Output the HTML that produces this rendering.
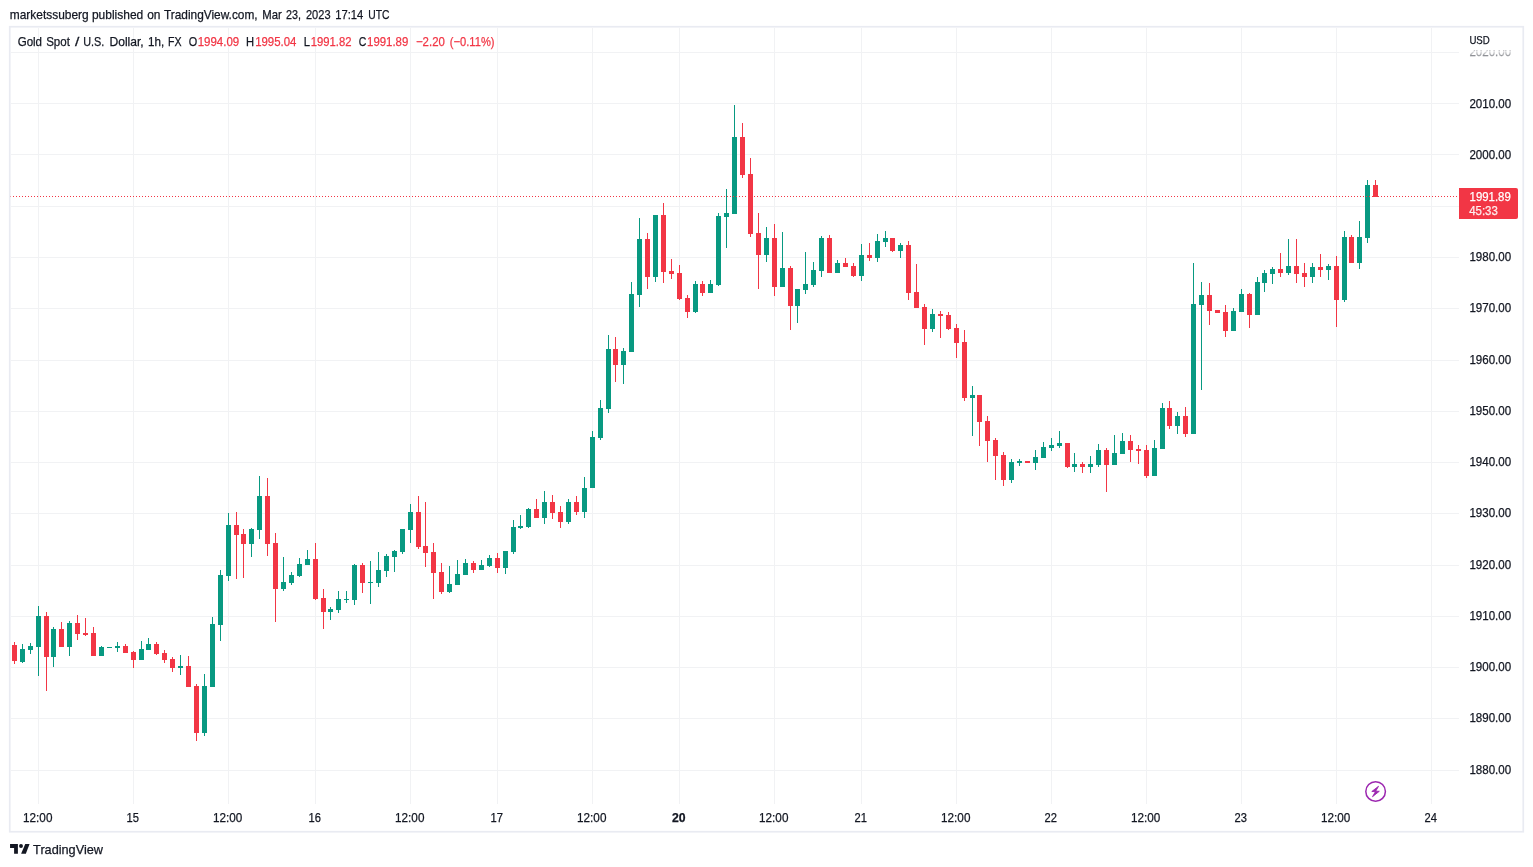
<!DOCTYPE html>
<html lang="en"><head><meta charset="utf-8"><title>Gold Spot / U.S. Dollar chart</title>
<style>html,body{margin:0;padding:0;background:#fff;}body{width:1533px;height:867px;overflow:hidden;}svg{display:block;font-family:'Liberation Sans', Arial, sans-serif;}text{white-space:pre;stroke:currentColor;stroke-width:0.25px;}</style></head><body>
<svg width="1533" height="867" viewBox="0 0 1533 867">
<rect width="1533" height="867" fill="#fff"/>
<path d="M10.5 770.5H1458.5M10.5 718.5H1458.5M10.5 667.5H1458.5M10.5 616.5H1458.5M10.5 565.5H1458.5M10.5 513.5H1458.5M10.5 462.5H1458.5M10.5 411.5H1458.5M10.5 360.5H1458.5M10.5 308.5H1458.5M10.5 257.5H1458.5M10.5 206.5H1458.5M10.5 154.5H1458.5M10.5 103.5H1458.5M10.5 52.5H1458.5M38.5 27.5V803.5M133.5 27.5V803.5M228.5 27.5V803.5M315.5 27.5V803.5M410.5 27.5V803.5M497.5 27.5V803.5M592.5 27.5V803.5M679.5 27.5V803.5M774.5 27.5V803.5M861.5 27.5V803.5M956.5 27.5V803.5M1051.5 27.5V803.5M1146.5 27.5V803.5M1241.5 27.5V803.5M1336.5 27.5V803.5M1431.5 27.5V803.5" stroke="#f1f2f4" stroke-width="1" fill="none" shape-rendering="crispEdges"/>
<path d="M22 644h1V663h-1zM30 643h1V654h-1zM38 606h1V676h-1zM53 627h1V667h-1zM69 621h1V656h-1zM101 646h1V656h-1zM109 647h1V648h-1zM117 642h1V652h-1zM141 641h1V660h-1zM148 638h1V650h-1zM180 655h1V675h-1zM204 674h1V736h-1zM212 617h1V687h-1zM220 570h1V641h-1zM228 513h1V581h-1zM251 528h1V557h-1zM259 476h1V539h-1zM283 557h1V591h-1zM291 572h1V585h-1zM299 558h1V577h-1zM307 550h1V565h-1zM330 607h1V620h-1zM338 591h1V613h-1zM346 591h1V603h-1zM354 564h1V605h-1zM370 561h1V604h-1zM378 552h1V587h-1zM386 554h1V577h-1zM394 550h1V572h-1zM402 529h1V554h-1zM410 504h1V543h-1zM449 566h1V593h-1zM457 560h1V585h-1zM465 559h1V575h-1zM481 560h1V570h-1zM489 555h1V567h-1zM505 551h1V574h-1zM513 520h1V554h-1zM520 515h1V529h-1zM528 508h1V528h-1zM544 491h1V524h-1zM568 499h1V524h-1zM584 477h1V518h-1zM592 431h1V488h-1zM600 400h1V440h-1zM608 335h1V413h-1zM623 348h1V384h-1zM631 282h1V352h-1zM639 218h1V307h-1zM655 215h1V282h-1zM695 281h1V313h-1zM710 280h1V293h-1zM718 213h1V286h-1zM726 189h1V248h-1zM734 105h1V214h-1zM766 227h1V262h-1zM782 232h1V287h-1zM797 289h1V323h-1zM805 252h1V294h-1zM813 262h1V287h-1zM821 236h1V277h-1zM837 260h1V273h-1zM861 244h1V281h-1zM877 234h1V262h-1zM885 231h1V247h-1zM900 243h1V258h-1zM932 309h1V332h-1zM972 386h1V436h-1zM1011 459h1V483h-1zM1019 459h1V466h-1zM1035 450h1V470h-1zM1043 442h1V458h-1zM1051 438h1V451h-1zM1059 431h1V448h-1zM1074 453h1V472h-1zM1090 456h1V473h-1zM1098 444h1V467h-1zM1114 435h1V465h-1zM1122 433h1V454h-1zM1154 440h1V476h-1zM1162 403h1V449h-1zM1177 412h1V434h-1zM1193 263h1V434h-1zM1201 282h1V390h-1zM1233 308h1V331h-1zM1241 289h1V312h-1zM1257 277h1V315h-1zM1264 270h1V292h-1zM1272 267h1V284h-1zM1288 239h1V275h-1zM1312 263h1V283h-1zM1328 264h1V280h-1zM1344 231h1V302h-1zM1359 221h1V269h-1zM1367 180h1V243h-1zM20 649h5V662h-5zM28 646h5V650h-5zM36 616h5V647h-5zM51 629h5V657h-5zM67 623h5V647h-5zM99 647h5V656h-5zM107 647h5V648h-5zM115 646h5V648h-5zM139 649h5V660h-5zM146 644h5V650h-5zM178 666h5V668h-5zM202 686h5V733h-5zM210 624h5V687h-5zM218 575h5V625h-5zM226 525h5V576h-5zM249 529h5V544h-5zM257 496h5V530h-5zM281 582h5V589h-5zM289 575h5V583h-5zM297 564h5V576h-5zM305 559h5V565h-5zM328 609h5V612h-5zM336 599h5V610h-5zM344 599h5V600h-5zM352 565h5V600h-5zM368 582h5V583h-5zM376 570h5V583h-5zM384 556h5V571h-5zM392 551h5V557h-5zM400 529h5V552h-5zM408 512h5V530h-5zM447 584h5V592h-5zM455 574h5V585h-5zM463 563h5V575h-5zM479 565h5V570h-5zM487 558h5V566h-5zM503 551h5V568h-5zM511 527h5V552h-5zM518 526h5V528h-5zM526 509h5V527h-5zM542 502h5V518h-5zM566 502h5V522h-5zM582 488h5V512h-5zM590 437h5V488h-5zM598 408h5V438h-5zM606 349h5V409h-5zM621 351h5V365h-5zM629 294h5V352h-5zM637 239h5V295h-5zM653 215h5V277h-5zM693 284h5V312h-5zM708 284h5V293h-5zM716 216h5V285h-5zM724 213h5V217h-5zM732 137h5V214h-5zM764 238h5V255h-5zM780 268h5V287h-5zM795 289h5V306h-5zM803 284h5V290h-5zM811 270h5V285h-5zM819 238h5V271h-5zM835 263h5V273h-5zM859 255h5V276h-5zM875 241h5V258h-5zM883 238h5V242h-5zM898 245h5V251h-5zM930 314h5V329h-5zM970 395h5V398h-5zM1009 462h5V480h-5zM1017 461h5V463h-5zM1033 457h5V463h-5zM1041 447h5V458h-5zM1049 445h5V448h-5zM1057 443h5V446h-5zM1072 464h5V467h-5zM1088 464h5V467h-5zM1096 450h5V465h-5zM1112 453h5V465h-5zM1120 441h5V454h-5zM1152 448h5V476h-5zM1160 408h5V449h-5zM1175 416h5V426h-5zM1191 304h5V434h-5zM1199 295h5V305h-5zM1231 311h5V331h-5zM1239 294h5V312h-5zM1255 282h5V315h-5zM1262 273h5V283h-5zM1270 269h5V274h-5zM1286 266h5V273h-5zM1310 267h5V277h-5zM1326 266h5V270h-5zM1342 237h5V300h-5zM1357 237h5V263h-5zM1365 185h5V238h-5z" fill="#089981" shape-rendering="crispEdges"/>
<path d="M14 642h1V664h-1zM46 612h1V691h-1zM61 622h1V647h-1zM77 615h1V640h-1zM85 618h1V636h-1zM93 627h1V656h-1zM125 644h1V653h-1zM133 651h1V668h-1zM156 642h1V655h-1zM164 650h1V663h-1zM172 657h1V672h-1zM188 656h1V687h-1zM196 684h1V741h-1zM236 512h1V579h-1zM243 529h1V578h-1zM267 478h1V556h-1zM275 533h1V622h-1zM315 543h1V600h-1zM323 589h1V629h-1zM362 563h1V593h-1zM418 496h1V549h-1zM425 502h1V567h-1zM433 543h1V599h-1zM441 563h1V594h-1zM473 561h1V573h-1zM497 553h1V573h-1zM536 499h1V518h-1zM552 495h1V519h-1zM560 506h1V528h-1zM576 496h1V515h-1zM615 337h1V382h-1zM647 233h1V289h-1zM663 203h1V283h-1zM671 259h1V279h-1zM679 265h1V300h-1zM687 295h1V318h-1zM702 281h1V296h-1zM742 123h1V178h-1zM750 158h1V237h-1zM758 213h1V289h-1zM774 224h1V296h-1zM790 266h1V330h-1zM829 235h1V273h-1zM845 258h1V267h-1zM853 263h1V277h-1zM869 243h1V261h-1zM892 238h1V252h-1zM908 241h1V300h-1zM916 264h1V308h-1zM924 304h1V345h-1zM940 311h1V338h-1zM948 312h1V330h-1zM956 324h1V358h-1zM964 330h1V401h-1zM979 395h1V446h-1zM987 416h1V462h-1zM995 438h1V480h-1zM1003 452h1V486h-1zM1027 461h1V463h-1zM1067 443h1V468h-1zM1082 462h1V473h-1zM1106 448h1V492h-1zM1130 435h1V462h-1zM1138 445h1V464h-1zM1146 445h1V478h-1zM1169 401h1V429h-1zM1185 407h1V437h-1zM1209 283h1V325h-1zM1217 310h1V313h-1zM1225 305h1V337h-1zM1249 293h1V328h-1zM1280 253h1V277h-1zM1296 239h1V283h-1zM1304 263h1V287h-1zM1320 254h1V277h-1zM1336 256h1V327h-1zM1351 235h1V263h-1zM1375 180h1V197h-1zM12 645h5V661h-5zM44 616h5V657h-5zM59 629h5V647h-5zM75 623h5V634h-5zM83 633h5V635h-5zM91 633h5V656h-5zM123 646h5V653h-5zM131 652h5V660h-5zM154 644h5V654h-5zM162 653h5V660h-5zM170 659h5V668h-5zM186 666h5V687h-5zM194 686h5V733h-5zM234 525h5V535h-5zM241 534h5V544h-5zM265 496h5V544h-5zM273 543h5V589h-5zM313 559h5V599h-5zM321 598h5V612h-5zM360 565h5V583h-5zM416 512h5V547h-5zM423 546h5V553h-5zM431 552h5V573h-5zM439 572h5V592h-5zM471 563h5V570h-5zM495 558h5V568h-5zM534 509h5V518h-5zM550 502h5V513h-5zM558 512h5V522h-5zM574 502h5V512h-5zM613 349h5V365h-5zM645 239h5V277h-5zM661 215h5V272h-5zM669 271h5V274h-5zM677 273h5V299h-5zM685 298h5V312h-5zM700 284h5V293h-5zM740 137h5V175h-5zM748 174h5V234h-5zM756 233h5V255h-5zM772 238h5V287h-5zM788 268h5V306h-5zM827 238h5V273h-5zM843 263h5V267h-5zM851 266h5V276h-5zM867 255h5V258h-5zM890 238h5V251h-5zM906 245h5V293h-5zM914 292h5V308h-5zM922 307h5V329h-5zM938 314h5V316h-5zM946 315h5V329h-5zM954 328h5V343h-5zM962 342h5V398h-5zM977 395h5V422h-5zM985 421h5V441h-5zM993 440h5V456h-5zM1001 455h5V480h-5zM1025 461h5V463h-5zM1065 443h5V467h-5zM1080 464h5V467h-5zM1104 450h5V465h-5zM1128 441h5V450h-5zM1136 449h5V451h-5zM1144 450h5V476h-5zM1167 408h5V426h-5zM1183 416h5V434h-5zM1207 295h5V311h-5zM1215 310h5V313h-5zM1223 312h5V331h-5zM1247 294h5V315h-5zM1278 269h5V273h-5zM1294 266h5V274h-5zM1302 273h5V277h-5zM1318 267h5V270h-5zM1334 266h5V300h-5zM1349 237h5V263h-5zM1373 185h5V197h-5z" fill="#f23645" shape-rendering="crispEdges"/>
<path d="M10 196.5H1459" stroke="#f23645" stroke-width="1" stroke-dasharray="1 2" fill="none" shape-rendering="crispEdges"/>
<rect x="9.75" y="26.75" width="1513.5" height="805" fill="none" stroke="#e9ebf2" stroke-width="1.7"/>
<text x="1469.4" y="774.2" font-size="12" fill="#131722" color="#131722" textLength="41.8" lengthAdjust="spacingAndGlyphs">1880.00</text>
<text x="1469.4" y="722.2" font-size="12" fill="#131722" color="#131722" textLength="41.8" lengthAdjust="spacingAndGlyphs">1890.00</text>
<text x="1469.4" y="671.2" font-size="12" fill="#131722" color="#131722" textLength="41.8" lengthAdjust="spacingAndGlyphs">1900.00</text>
<text x="1469.4" y="620.2" font-size="12" fill="#131722" color="#131722" textLength="41.8" lengthAdjust="spacingAndGlyphs">1910.00</text>
<text x="1469.4" y="569.2" font-size="12" fill="#131722" color="#131722" textLength="41.8" lengthAdjust="spacingAndGlyphs">1920.00</text>
<text x="1469.4" y="517.2" font-size="12" fill="#131722" color="#131722" textLength="41.8" lengthAdjust="spacingAndGlyphs">1930.00</text>
<text x="1469.4" y="466.2" font-size="12" fill="#131722" color="#131722" textLength="41.8" lengthAdjust="spacingAndGlyphs">1940.00</text>
<text x="1469.4" y="415.2" font-size="12" fill="#131722" color="#131722" textLength="41.8" lengthAdjust="spacingAndGlyphs">1950.00</text>
<text x="1469.4" y="364.2" font-size="12" fill="#131722" color="#131722" textLength="41.8" lengthAdjust="spacingAndGlyphs">1960.00</text>
<text x="1469.4" y="312.2" font-size="12" fill="#131722" color="#131722" textLength="41.8" lengthAdjust="spacingAndGlyphs">1970.00</text>
<text x="1469.4" y="261.2" font-size="12" fill="#131722" color="#131722" textLength="41.8" lengthAdjust="spacingAndGlyphs">1980.00</text>
<text x="1469.4" y="210.2" font-size="12" fill="#131722" color="#131722" textLength="41.8" lengthAdjust="spacingAndGlyphs">1990.00</text>
<text x="1469.4" y="158.6" font-size="12" fill="#131722" color="#131722" textLength="41.8" lengthAdjust="spacingAndGlyphs">2000.00</text>
<text x="1469.4" y="107.6" font-size="12" fill="#131722" color="#131722" textLength="41.8" lengthAdjust="spacingAndGlyphs">2010.00</text>
<text x="1469.4" y="56.0" font-size="12" fill="#131722" color="#131722" textLength="41.8" lengthAdjust="spacingAndGlyphs">2020.00</text>
<defs><linearGradient id="fd" x1="0" y1="0" x2="0" y2="1"><stop offset="0" stop-color="#fff" stop-opacity="0.95"/><stop offset="1" stop-color="#fff" stop-opacity="0.4"/></linearGradient></defs>
<rect x="1460" y="28" width="62" height="22.5" fill="#fff"/>
<rect x="1460" y="50.5" width="62" height="6.5" fill="url(#fd)"/>
<text x="1469.4" y="44.4" font-size="11.5" fill="#131722" color="#131722" textLength="20.4" lengthAdjust="spacingAndGlyphs">USD</text>
<path d="M1459 188H1516a2 2 0 0 1 2 2V217a2 2 0 0 1 -2 2H1459z" fill="#f23645"/>
<text x="1469.6" y="201.2" font-size="13" fill="#fff" color="#fff" textLength="41.2" lengthAdjust="spacingAndGlyphs">1991.89</text>
<text x="1469.2" y="215.0" font-size="13" fill="#fff" color="#fff" fill-opacity="0.85" textLength="28.6" lengthAdjust="spacingAndGlyphs">45:33</text>
<text x="23.1" y="821.7" font-size="12" fill="#131722" color="#131722" textLength="29.3" lengthAdjust="spacingAndGlyphs">12:00</text>
<text x="126.5" y="821.7" font-size="12" fill="#131722" color="#131722" textLength="12.4" lengthAdjust="spacingAndGlyphs">15</text>
<text x="213.0" y="821.7" font-size="12" fill="#131722" color="#131722" textLength="29.3" lengthAdjust="spacingAndGlyphs">12:00</text>
<text x="308.5" y="821.7" font-size="12" fill="#131722" color="#131722" textLength="12.4" lengthAdjust="spacingAndGlyphs">16</text>
<text x="395.1" y="821.7" font-size="12" fill="#131722" color="#131722" textLength="29.3" lengthAdjust="spacingAndGlyphs">12:00</text>
<text x="490.5" y="821.7" font-size="12" fill="#131722" color="#131722" textLength="12.4" lengthAdjust="spacingAndGlyphs">17</text>
<text x="577.1" y="821.7" font-size="12" fill="#131722" color="#131722" textLength="29.3" lengthAdjust="spacingAndGlyphs">12:00</text>
<text x="671.9" y="821.7" font-size="12" fill="#131722" color="#131722" font-weight="bold" textLength="13.6" lengthAdjust="spacingAndGlyphs">20</text>
<text x="759.1" y="821.7" font-size="12" fill="#131722" color="#131722" textLength="29.3" lengthAdjust="spacingAndGlyphs">12:00</text>
<text x="854.5" y="821.7" font-size="12" fill="#131722" color="#131722" textLength="12.4" lengthAdjust="spacingAndGlyphs">21</text>
<text x="941.1" y="821.7" font-size="12" fill="#131722" color="#131722" textLength="29.3" lengthAdjust="spacingAndGlyphs">12:00</text>
<text x="1044.5" y="821.7" font-size="12" fill="#131722" color="#131722" textLength="12.4" lengthAdjust="spacingAndGlyphs">22</text>
<text x="1131.0" y="821.7" font-size="12" fill="#131722" color="#131722" textLength="29.3" lengthAdjust="spacingAndGlyphs">12:00</text>
<text x="1234.5" y="821.7" font-size="12" fill="#131722" color="#131722" textLength="12.4" lengthAdjust="spacingAndGlyphs">23</text>
<text x="1321.0" y="821.7" font-size="12" fill="#131722" color="#131722" textLength="29.3" lengthAdjust="spacingAndGlyphs">12:00</text>
<text x="1424.5" y="821.7" font-size="12" fill="#131722" color="#131722" textLength="12.4" lengthAdjust="spacingAndGlyphs">24</text>
<text x="9.74" y="18.7" font-size="13" fill="#131722" color="#131722" textLength="78.91" lengthAdjust="spacingAndGlyphs">marketssuberg</text>
<text x="91.95" y="18.7" font-size="13" fill="#131722" color="#131722" textLength="51.31" lengthAdjust="spacingAndGlyphs">published</text>
<text x="147.14" y="18.7" font-size="13" fill="#131722" color="#131722" textLength="13.31" lengthAdjust="spacingAndGlyphs">on</text>
<text x="163.94" y="18.7" font-size="13" fill="#131722" color="#131722" textLength="93.71" lengthAdjust="spacingAndGlyphs">TradingView.com,</text>
<text x="262.35" y="18.7" font-size="13" fill="#131722" color="#131722" textLength="19.51" lengthAdjust="spacingAndGlyphs">Mar</text>
<text x="286.05" y="18.7" font-size="13" fill="#131722" color="#131722" textLength="15.01" lengthAdjust="spacingAndGlyphs">23,</text>
<text x="305.94" y="18.7" font-size="13" fill="#131722" color="#131722" textLength="24.61" lengthAdjust="spacingAndGlyphs">2023</text>
<text x="335.25" y="18.7" font-size="13" fill="#131722" color="#131722" textLength="28.11" lengthAdjust="spacingAndGlyphs">17:14</text>
<text x="368.35" y="18.7" font-size="13" fill="#131722" color="#131722" textLength="21.21" lengthAdjust="spacingAndGlyphs">UTC</text>
<text x="17.66" y="45.9" font-size="12.5" fill="#131722" color="#131722" textLength="24.38" lengthAdjust="spacingAndGlyphs">Gold</text>
<text x="46.16" y="45.9" font-size="12.5" fill="#131722" color="#131722" textLength="23.77" lengthAdjust="spacingAndGlyphs">Spot</text>
<text x="77.15" y="45.9" font-size="12.5" fill="#131722" color="#131722" text-anchor="middle" transform="translate(77.15 0) scale(1.25 1) translate(-77.15 0)">/</text>
<text x="83.16" y="45.9" font-size="12.5" fill="#131722" color="#131722" textLength="21.08" lengthAdjust="spacingAndGlyphs">U.S.</text>
<text x="109.46" y="45.9" font-size="12.5" fill="#131722" color="#131722" textLength="34.28" lengthAdjust="spacingAndGlyphs">Dollar,</text>
<text x="147.96" y="45.9" font-size="12.5" fill="#131722" color="#131722" textLength="16.17" lengthAdjust="spacingAndGlyphs">1h,</text>
<text x="167.96" y="45.9" font-size="12.5" fill="#131722" color="#131722" textLength="13.57" lengthAdjust="spacingAndGlyphs">FX</text>
<text x="188.66" y="45.9" font-size="12.5" fill="#131722" color="#131722" textLength="8.47" lengthAdjust="spacingAndGlyphs">O</text>
<text x="197.66" y="45.9" font-size="12.5" fill="#f23645" color="#f23645" textLength="41.58" lengthAdjust="spacingAndGlyphs">1994.09</text>
<text x="245.96" y="45.9" font-size="12.5" fill="#131722" color="#131722" textLength="8.07" lengthAdjust="spacingAndGlyphs">H</text>
<text x="255.16" y="45.9" font-size="12.5" fill="#f23645" color="#f23645" textLength="41.28" lengthAdjust="spacingAndGlyphs">1995.04</text>
<text x="303.66" y="45.9" font-size="12.5" fill="#131722" color="#131722" textLength="6.27" lengthAdjust="spacingAndGlyphs">L</text>
<text x="310.76" y="45.9" font-size="12.5" fill="#f23645" color="#f23645" textLength="40.78" lengthAdjust="spacingAndGlyphs">1991.82</text>
<text x="358.76" y="45.9" font-size="12.5" fill="#131722" color="#131722" textLength="7.57" lengthAdjust="spacingAndGlyphs">C</text>
<text x="367.06" y="45.9" font-size="12.5" fill="#f23645" color="#f23645" textLength="41.27" lengthAdjust="spacingAndGlyphs">1991.89</text>
<text x="415.96" y="45.9" font-size="12.5" fill="#f23645" color="#f23645" textLength="28.88" lengthAdjust="spacingAndGlyphs">−2.20</text>
<text x="449.86" y="45.9" font-size="12.5" fill="#f23645" color="#f23645" textLength="44.68" lengthAdjust="spacingAndGlyphs">(−0.11%)</text>
<circle cx="1375.6" cy="791.45" r="9.8" fill="none" stroke="#9c27b0" stroke-width="1.5"/>
<path d="M1378.5 786.3L1371.8 791.5L1375.5 791.6L1372.5 796.7L1379.3 791.3L1375.7 791.2z" fill="#9c27b0" stroke="#9c27b0" stroke-width="0.9" stroke-linejoin="round"/>
<path d="M10.05 844H17.9V853.8H14.1V847.9H10.05z" fill="#131722"/><circle cx="21" cy="845.95" r="1.95" fill="#131722"/><path d="M25.25 844H29.55L25.85 853.8H21.1z" fill="#131722"/>
<text x="33.1" y="853.6" font-size="13" fill="#131722" color="#131722" textLength="69.9" lengthAdjust="spacingAndGlyphs">TradingView</text>
</svg></body></html>
